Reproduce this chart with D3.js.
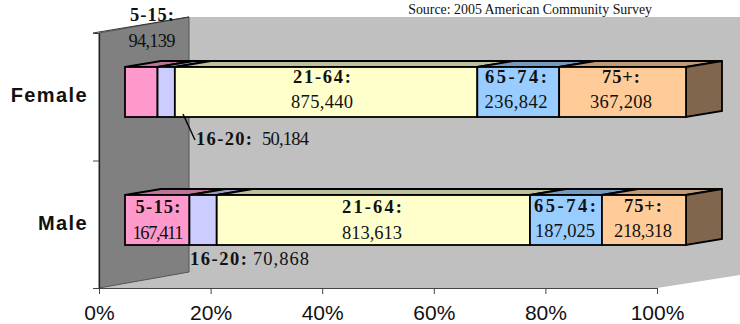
<!DOCTYPE html>
<html>
<head>
<meta charset="utf-8">
<script src="https://cdnjs.cloudflare.com/ajax/libs/d3/7.8.5/d3.min.js"></script>
<style>
  html, body { margin: 0; padding: 0; background: #fff; }
  svg { display: block; }
  .serif { font-family: "Liberation Serif", serif; fill: #111; }
  .sans { font-family: "Liberation Sans", Arial, sans-serif; fill: #111; }
</style>
</head>
<body>
<svg id="chart" width="740" height="324"></svg>
<script>
// Population by age group and sex
const groups = ["Female", "Male"];
const ageBands = ["5-15:", "16-20:", "21-64:", "65-74:", "75+:"];
const femaleValues = [94139, 50184, 875440, 236842, 367208];
const maleValues = [167411, 70868, 813613, 187025, 218318];
const axisTicks = [0, 20, 40, 60, 80, 100];
const frontColors = ["#ff99cc", "#ccccff", "#ffffcc", "#99ccff", "#ffcc99"];
const topColors = ["#c0739a", "#9a9ac0", "#c0c09a", "#739ac0", "#c09a73"];
const sideColor = "#80664d";
const sourceNote = "Source: 2005 American Community Survey";

const W = 740;
const svg = d3.select("#chart");

// Projection of the 3-D box: a constant shift for one unit of depth
const wallDx = 90, wallDy = -16;
const barDx = 36, barDy = -6;
const barHeight = 50;

const axisX = d3.scaleLinear().domain([0, 100]).range([99, 657]);
const plotY = d3.scaleLinear().domain([0, 1]).range([288, 33]);
const barX = d3.scaleLinear().domain([0, 1]).range([125, 686]);
const barTop = d3.scalePoint().domain(groups).range([67, 195]);

const poly = pts => pts.map(p => p.join(",")).join(" ");

// Back wall and floor share one grey
svg.append("polygon")
  .attr("fill", "#c0c0c0")
  .attr("points", poly([
    [axisX(0) + wallDx, plotY(1) + wallDy],
    [W, plotY(1) + wallDy],
    [W, plotY(0) + wallDy + 3],
    [axisX(100), plotY(0)],
    [axisX(0), plotY(0)]
  ]));

// Side wall
svg.append("polygon")
  .attr("fill", "#808080")
  .attr("stroke", "#555")
  .attr("stroke-width", 1)
  .attr("points", poly([
    [axisX(0), plotY(1)],
    [axisX(0) + wallDx, plotY(1) + wallDy],
    [axisX(0) + wallDx, plotY(0) + wallDy],
    [axisX(0), plotY(0)]
  ]));

// Top edge of the side wall runs out to the upper tick
svg.append("line")
  .attr("x1", axisX(0) - 6).attr("x2", axisX(0) + wallDx)
  .attr("y1", plotY(1)).attr("y2", plotY(1) + wallDy)
  .attr("stroke", "#333");

// Axes
const xAxis = d3.axisBottom(axisX)
  .tickValues(axisTicks)
  .tickFormat(d => d + "%")
  .tickSize(6)
  .tickSizeOuter(0);
const xg = svg.append("g").attr("transform", `translate(0,${plotY(0)})`).call(xAxis);
xg.select(".domain").attr("stroke", "#444");
xg.selectAll("line").attr("stroke", "#444");
xg.selectAll("text")
  .attr("class", "sans")
  .attr("dy", 0).attr("y", 32)
  .style("font-size", "21px");

const yAxis = d3.axisLeft(plotY).tickValues([0, 0.5, 1]).tickFormat("").tickSize(6).tickSizeOuter(0);
const yg = svg.append("g").attr("transform", `translate(${axisX(0)},0)`).call(yAxis);
yg.select(".domain").attr("stroke", "#222").attr("stroke-width", 1.3);
yg.selectAll("line").attr("stroke", "#444");

// Group names
svg.selectAll(".group")
  .data(groups)
  .join("text")
  .attr("class", "sans")
  .attr("x", 88)
  .attr("y", d => barTop(d) + barHeight / 2 + 10)
  .attr("text-anchor", "end")
  .attr("font-weight", "bold")
  .attr("font-size", 20)
  .attr("letter-spacing", 1.4)
  .text(d => d);

// Stacked boxes
const seriesByGroup = { Female: femaleValues, Male: maleValues };
groups.forEach(group => {
  const values = seriesByGroup[group];
  const total = d3.sum(values);
  const y0 = barTop(group);
  const y1 = y0 + barHeight;
  const g = svg.append("g");
  let cum = 0;
  const segs = values.map((v, i) => {
    const s = { i, v, x0: barX(cum / total), x1: barX((cum + v) / total) };
    cum += v;
    return s;
  });
  const boxStyle = sel => sel.attr("stroke", "#000").attr("stroke-width", 1.8).attr("stroke-linejoin", "miter");

  g.selectAll(".top").data(segs).join("polygon")
    .attr("fill", d => topColors[d.i])
    .call(boxStyle)
    .attr("points", d => poly([
      [d.x0, y0], [d.x0 + barDx, y0 + barDy], [d.x1 + barDx, y0 + barDy], [d.x1, y0]
    ]));

  const xEnd = barX(1);
  g.append("polygon")
    .attr("fill", sideColor)
    .call(boxStyle)
    .attr("points", poly([
      [xEnd, y0], [xEnd + barDx, y0 + barDy], [xEnd + barDx, y1 + barDy], [xEnd, y1]
    ]));

  g.selectAll(".front").data(segs).join("rect")
    .attr("x", d => d.x0).attr("y", y0)
    .attr("width", d => d.x1 - d.x0).attr("height", y1 - y0)
    .attr("fill", d => frontColors[d.i])
    .call(boxStyle);
});

// Value labels: anchored per group and band, each fitted to its own width
const fmt = d3.format(",");
const labelSpots = {
  Female: [
    { x: 152, yTop: 21, yVal: 47, wTop: 44, wVal: 47 },
    { inline: true, x: 196, y: 145, wTop: 56, gap: 10, wVal: 47 },
    { x: 322, yTop: 83, yVal: 108, wTop: 58, wVal: 62 },
    { x: 516, yTop: 83, yVal: 108, wTop: 62, wVal: 63 },
    { x: 621, yTop: 83, yVal: 108, wTop: 38, wVal: 62 }
  ],
  Male: [
    { x: 158, yTop: 213, yVal: 239, wTop: 45, wVal: 51 },
    { inline: true, x: 190, y: 265, wTop: 57, gap: 6, wVal: 56 },
    { x: 372, yTop: 213, yVal: 239, wTop: 60, wVal: 60 },
    { x: 565, yTop: 212, yVal: 237, wTop: 62, wVal: 60 },
    { x: 643, yTop: 212, yVal: 237, wTop: 38, wVal: 58 }
  ]
};
const fitted = (sel, w) => sel.attr("textLength", w).attr("lengthAdjust", "spacing");
groups.forEach(group => {
  seriesByGroup[group].forEach((v, i) => {
    const spot = labelSpots[group][i];
    if (spot.inline) {
      svg.append("text").attr("class", "serif")
        .attr("x", spot.x).attr("y", spot.y)
        .attr("font-size", 18.5).attr("font-weight", "bold")
        .call(fitted, spot.wTop)
        .text(ageBands[i]);
      svg.append("text").attr("class", "serif")
        .attr("x", spot.x + spot.wTop + spot.gap).attr("y", spot.y)
        .attr("font-size", 18.5)
        .call(fitted, spot.wVal)
        .text(fmt(v));
    } else {
      svg.append("text").attr("class", "serif")
        .attr("x", spot.x - spot.wTop / 2).attr("y", spot.yTop)
        .attr("font-size", 18.5).attr("font-weight", "bold")
        .call(fitted, spot.wTop)
        .text(ageBands[i]);
      svg.append("text").attr("class", "serif")
        .attr("x", spot.x - spot.wVal / 2).attr("y", spot.yVal)
        .attr("font-size", 18.5)
        .call(fitted, spot.wVal)
        .text(fmt(v));
    }
  });
});

// Leader from the narrow band to its label
svg.append("line")
  .attr("x1", 183).attr("y1", 114)
  .attr("x2", 195).attr("y2", 140)
  .attr("stroke", "#000").attr("stroke-width", 1.4);

// Source note
svg.append("text").attr("class", "serif")
  .attr("x", 652).attr("y", 14).attr("text-anchor", "end")
  .attr("font-size", 13.9)
  .text(sourceNote);
</script>
</body>
</html>
